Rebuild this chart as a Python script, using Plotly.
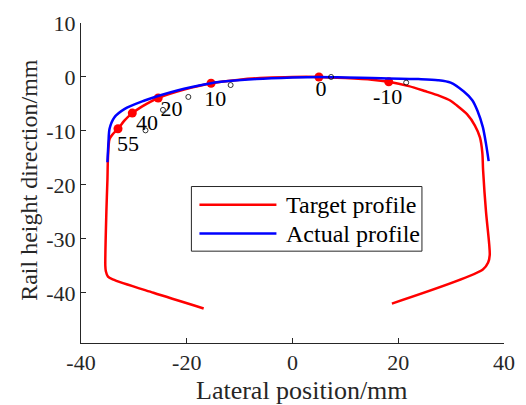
import plotly.graph_objects as go

# Target profile (red)
target_x = [-16.8, -26.3, -34.0, -34.9, -35.3, -35.4, -35.2, -35.0, -34.9, -34.6, -34.0, -32.9, -31.8,
            -30.3, -28.5, -26.9, -25.4, -20.5, -15.4, -10.0, -5.0, 0.0, 5.0, 10.0, 15.0, 18.2, 22.0,
            25.0, 27.8, 29.9, 31.1, 33.0, 34.5, 35.45, 35.9, 36.05, 36.6, 37.2, 37.3, 37.0, 36.0, 18.8]
target_y = [-42.9, -40.0, -37.5, -37.0, -36.0, -35.0, -25.0, -19.0, -15.0, -11.5, -10.6, -9.5, -8.1,
            -6.7, -5.5, -4.6, -3.9, -2.35, -1.16, -0.5, -0.15, 0.0, 0.0, -0.2, -0.5, -0.9, -1.7,
            -2.6, -3.5, -4.4, -5.3, -6.9, -9.0, -11.2, -14.0, -17.3, -25.0, -31.0, -33.0, -34.4, -35.7, -42.0]

# Actual profile (blue)
actual_x = [-35.0, -34.8, -34.6, -33.7, -31.8, -28.1, -26.3, -20.5, -15.4, -6.9, 0.0, 5.0, 10.0,
            15.0, 23.8, 27.5, 29.9, 32.4, 34.0, 35.0, 36.0, 36.6, 37.1]
actual_y = [-15.8, -12.0, -9.6, -7.5, -5.95, -4.4, -3.8, -2.2, -1.16, -0.4, -0.1, 0.0, -0.1,
            -0.2, -0.4, -0.6, -1.05, -2.7, -4.3, -6.3, -9.3, -12.4, -15.6]

# Measurement points
mark_x = [-33.0, -30.3, -25.4, -15.4, 5.0, 18.2]
mark_y = [-9.6, -6.7, -3.9, -1.16, 0.0, -0.9]
hollow_x = [-27.8, -24.5, -19.7, -11.7, 7.3, 21.5]
hollow_y = [-9.9, -6.1, -3.7, -1.5, 0.0, -1.05]
label_text = ["55", "40", "20", "10", "0", "-10"]
label_x = [-31.1, -27.5, -22.9, -14.6, 5.4, 18.0]
label_y = [-12.7, -8.9, -6.3, -4.33, -2.6, -4.0]

x_ticks = [-40, -20, 0, 20, 40]
y_ticks = [10, 0, -10, -20, -30, -40]

FONT = "Liberation Serif, Times New Roman, serif"
AX = "#262626"

fig = go.Figure()
fig.add_trace(go.Scatter(x=target_x, y=target_y, mode="lines", name="Target profile",
                         line=dict(color="#ff0000", width=2.5, shape="spline", smoothing=0.8),
                         showlegend=False))
fig.add_trace(go.Scatter(x=mark_x, y=mark_y, mode="markers", showlegend=False,
                         marker=dict(color="#ff0000", size=9, line=dict(width=0))))
fig.add_trace(go.Scatter(x=actual_x, y=actual_y, mode="lines", name="Actual profile",
                         line=dict(color="#0000ff", width=2.5, shape="spline", smoothing=0.8),
                         showlegend=False))
fig.add_trace(go.Scatter(x=hollow_x, y=hollow_y, mode="markers", showlegend=False,
                         marker=dict(symbol="circle-open", color="black", size=5,
                                     line=dict(width=0.8, color="black"))))
fig.add_trace(go.Scatter(x=label_x, y=label_y, mode="text", text=label_text, showlegend=False,
                         textposition="middle center",
                         textfont=dict(family=FONT, size=22, color="black")))

# manual legend
lx0, lx1, ly0, ly1 = 0.261, 0.806, 0.287, 0.489
fig.add_shape(type="rect", xref="paper", yref="paper", x0=lx0, x1=lx1, y0=ly0, y1=ly1,
              line=dict(color=AX, width=1), fillcolor="white", layer="above")
for yy, col, name in [(0.432, "#ff0000", "Target profile"), (0.342, "#0000ff", "Actual profile")]:
    fig.add_shape(type="line", xref="paper", yref="paper", x0=0.280, x1=0.462, y0=yy, y1=yy,
                  line=dict(color=col, width=2.5), layer="above")
    fig.add_annotation(xref="paper", yref="paper", x=0.479, y=yy, text=name, showarrow=False,
                       xanchor="left", yanchor="middle",
                       font=dict(family=FONT, size=24, color="black"))

# axis titles
fig.add_annotation(xref="paper", yref="paper", x=0.523, y=-0.148, text="Lateral position/mm",
                   showarrow=False, xanchor="center", yanchor="middle",
                   font=dict(family=FONT, size=26, color=AX))
fig.add_annotation(xref="paper", yref="paper", x=0, xshift=-52, y=0.51,
                   text="Rail height direction/mm", textangle=-90,
                   showarrow=False, xanchor="center", yanchor="middle",
                   font=dict(family=FONT, size=24, color=AX))

fig.update_layout(
    width=526, height=405,
    margin=dict(l=81, r=11, t=22, b=62),
    plot_bgcolor="white", paper_bgcolor="white",
    font=dict(family=FONT, size=22, color=AX),
    xaxis=dict(range=[-40, 40], tickvals=x_ticks, ticktext=[str(v) for v in x_ticks],
               ticks="inside", ticklen=5, tickcolor=AX, showline=True, linecolor=AX,
               linewidth=1, showgrid=False, zeroline=False, mirror=False),
    yaxis=dict(range=[-49.3, 10], tickvals=y_ticks, ticktext=[str(v) for v in y_ticks],
               ticks="inside", ticklen=5, tickcolor=AX, showline=True, linecolor=AX,
               linewidth=1, showgrid=False, zeroline=False, mirror=False),
)

fig.write_html("out.html")
